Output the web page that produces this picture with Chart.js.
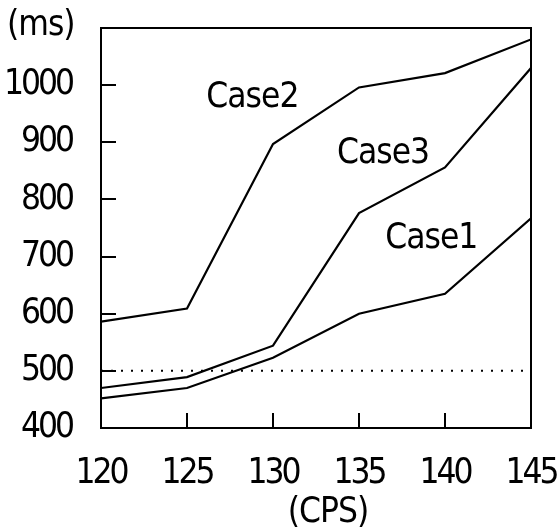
<!DOCTYPE html>
<html>
<head>
<meta charset="utf-8">
<script src="https://cdn.jsdelivr.net/npm/chart.js@4.4.1/dist/chart.umd.min.js"></script>
<style>
  html, body { margin: 0; padding: 0; background: #fff; }
</style>
</head>
<body>
<canvas id="graficoCps" width="560" height="529"></canvas>
<script>
// valores
const cps = [120, 125, 130, 135, 140, 145];
const case1 = [452, 470, 523, 600, 635, 767];
const case2 = [586, 609, 897, 996, 1021, 1080];
const case3 = [470, 489, 544, 776, 856, 1030];
const limite = 500;
const yTicks = [400, 500, 600, 700, 800, 900, 1000];

// rotulos das curvas (posicao em unidades dos eixos)
const rotulos = [
    { text: 'Case2', x: 128.8, y: 978 },
    { text: 'Case3', x: 136.4, y: 880 },
    { text: 'Case1', x: 139.2, y: 731 }
];

const fonte = "'DejaVu Sans Condensed', 'DejaVu Sans', sans-serif";

const pontos = (ys) => cps.map((x, i) => ({ x: x, y: ys[i] }));

const linha = (nome, ys) => ({
    label: nome,
    data: pontos(ys),
    borderColor: '#000',
    borderWidth: 2.2,
    pointRadius: 0,
    tension: 0,
    fill: false
});

// sem o padding automatico dos rotulos
const semPadding = (s) => {
    s.paddingTop = 0;
    s.paddingBottom = 0;
    s.paddingLeft = 0;
    s.paddingRight = 0;
};

// moldura, marcas internas e textos soltos
const moldura = {
    id: 'moldura',
    beforeDraw(chart) {
        chart.ctx.letterSpacing = '-3px';
    },
    afterDraw(chart) {
        const ctx = chart.ctx;
        const a = chart.chartArea;
        const sx = chart.scales.x;
        const sy = chart.scales.y;
        ctx.save();
        ctx.strokeStyle = '#000';
        ctx.lineWidth = 2;
        ctx.strokeRect(a.left, a.top, a.right - a.left, a.bottom - a.top);

        ctx.beginPath();
        yTicks.slice(1).forEach(v => {
            const py = Math.round(sy.getPixelForValue(v));
            ctx.moveTo(a.left, py);
            ctx.lineTo(a.left + 15, py);
        });
        cps.slice(1, -1).forEach(v => {
            const px = Math.round(sx.getPixelForValue(v));
            ctx.moveTo(px, a.bottom);
            ctx.lineTo(px, a.bottom - 15);
        });
        ctx.stroke();

        ctx.fillStyle = '#000';
        ctx.letterSpacing = '-1px';
        ctx.font = '35px ' + fonte;
        ctx.textBaseline = 'middle';
        ctx.textAlign = 'center';
        rotulos.forEach(r => {
            ctx.fillText(r.text, sx.getPixelForValue(r.x), sy.getPixelForValue(r.y));
        });

        ctx.textAlign = 'left';
        ctx.fillText('(ms)', 7, 26);
        ctx.textAlign = 'center';
        ctx.fillText('(CPS)', 328, 513);
        ctx.restore();
    }
};

const ctx = document.getElementById('graficoCps').getContext('2d');
const graficoCps = new Chart(ctx, {
    type: 'line',

    data: {
        datasets: [
            linha('Case1', case1),
            linha('Case2', case2),
            linha('Case3', case3),
            {
                label: 'limite',
                data: [{ x: cps[0], y: limite }, { x: cps[cps.length - 1], y: limite }],
                borderColor: '#000',
                borderWidth: 2,
                borderDash: [2, 8],
                pointRadius: 0,
                fill: false
            }
        ]
    },

    options: {
        responsive: false,
        animation: false,
        layout: {
            padding: { top: 28, right: 29, left: 0, bottom: 0 }
        },
        plugins: {
            legend: { display: false },
            tooltip: { enabled: false }
        },
        scales: {
            x: {
                type: 'linear',
                min: 120,
                max: 145,
                afterFit(s) { s.height = 101; semPadding(s); },
                afterBuildTicks(s) { s.ticks = cps.map(v => ({ value: v })); },
                grid: { display: false, drawTicks: false },
                border: { display: false },
                ticks: {
                    color: '#000',
                    padding: 25,
                    maxRotation: 0,
                    callback: (v) => String(v),
                    font: { family: fonte, size: 35 }
                }
            },
            y: {
                min: 400,
                max: 1100,
                afterFit(s) { s.width = 101; semPadding(s); },
                afterBuildTicks(s) { s.ticks = yTicks.map(v => ({ value: v })); },
                grid: { display: false, drawTicks: false },
                border: { display: false },
                ticks: {
                    color: '#000',
                    padding: 29,
                    callback: (v) => String(v),
                    font: { family: fonte, size: 35 }
                }
            }
        }
    },

    plugins: [moldura]
});
</script>
</body>
</html>
